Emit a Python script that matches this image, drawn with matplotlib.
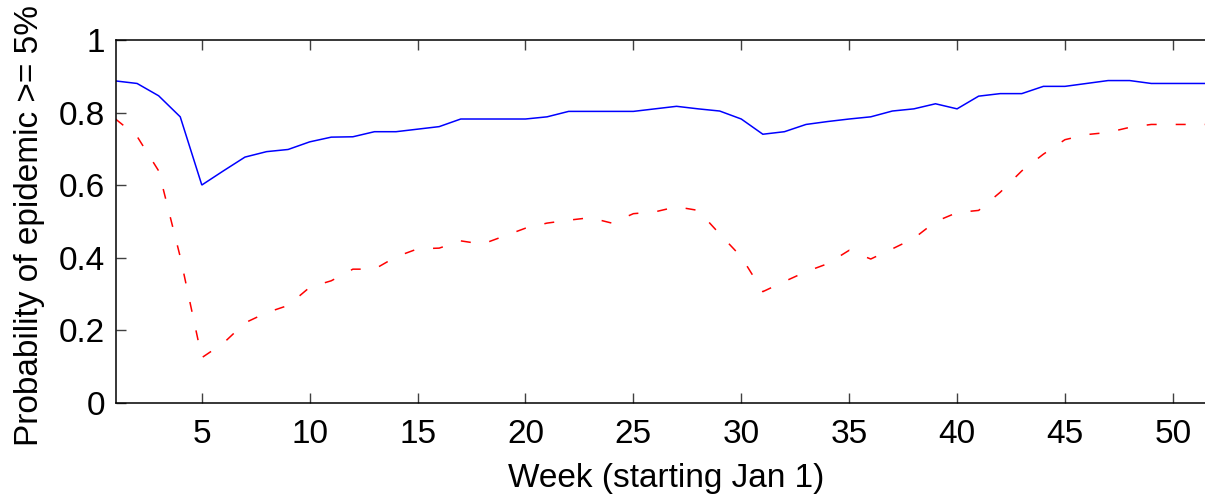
import matplotlib
matplotlib.use("Agg")
import matplotlib.pyplot as plt

plt.rcParams['font.family'] = ['Liberation Sans', 'DejaVu Sans']
plt.rcParams['lines.scale_dashes'] = False

weeks = list(range(1, 53))
prob_blue = [0.888, 0.881, 0.847, 0.789, 0.601, 0.640, 0.678, 0.693, 0.699, 0.720,
             0.733, 0.734, 0.748, 0.748, 0.755, 0.762, 0.783, 0.783, 0.783, 0.783,
             0.789, 0.804, 0.804, 0.804, 0.804, 0.811, 0.818, 0.811, 0.805, 0.783,
             0.741, 0.748, 0.768, 0.776, 0.783, 0.789, 0.805, 0.811, 0.825, 0.811,
             0.846, 0.853, 0.853, 0.873, 0.873, 0.881, 0.889, 0.889, 0.881, 0.881,
             0.881, 0.881]
prob_red = [0.783, 0.735, 0.640, 0.403, 0.125, 0.165, 0.221, 0.249, 0.269, 0.319,
            0.337, 0.369, 0.369, 0.403, 0.425, 0.427, 0.447, 0.438, 0.460, 0.482,
            0.496, 0.504, 0.511, 0.496, 0.522, 0.527, 0.541, 0.531, 0.466, 0.403,
            0.307, 0.335, 0.362, 0.384, 0.421, 0.397, 0.425, 0.454, 0.500, 0.525,
            0.531, 0.581, 0.640, 0.686, 0.726, 0.740, 0.746, 0.760, 0.768, 0.768,
            0.768, 0.768]
xticks = [5, 10, 15, 20, 25, 30, 35, 40, 45, 50]
yticks = [0, 0.2, 0.4, 0.6, 0.8, 1]
ytick_labels = ['0', '0.2', '0.4', '0.6', '0.8', '1']

W, H = 1205, 498
fig = plt.figure(figsize=(W / 100, H / 100), dpi=100)
left, right, bottom, top = 115.5, 1216, 403, 40.3
ax = fig.add_axes([left / W, (H - bottom) / H, (right - left) / W, (bottom - top) / H])

ax.plot(weeks, prob_blue, color='#0000ff', lw=1.1, solid_joinstyle='miter')
ax.plot(weeks, prob_red, color='#ff0000', lw=1.1, linestyle=(0, (7.2, 13.7)))

ax.set_xlim(1, 52)
ax.set_ylim(0, 1)
ax.set_xticks(xticks)
ax.set_xticklabels([str(t) for t in xticks])
ax.set_yticks(yticks)
ax.set_yticklabels(ytick_labels)

for s in ax.spines.values():
    s.set_linewidth(1.1)
    s.set_color('black')

ax.tick_params(axis='x', direction='in', length=7, width=1, top=True, bottom=True,
               labelsize=24, pad=11.3, color='#404040')
ax.tick_params(axis='y', direction='in', length=7, width=1, left=True, right=True,
               labelsize=24, pad=7.6, color='#404040')

ax.set_xlabel('Week (starting Jan 1)', fontsize=24)
ax.set_ylabel('Probability of epidemic >= 5%', fontsize=24)
ax.xaxis.set_label_coords(0.5, -59.7 / (bottom - top))
ax.yaxis.set_label_coords((45 - left) / (right - left), 0.49)

fig.savefig('out.png', dpi=100)
